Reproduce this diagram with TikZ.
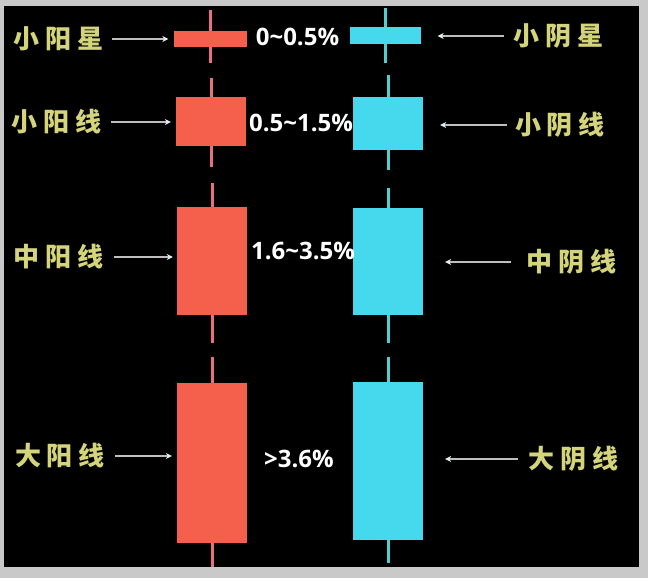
\documentclass[tikz,border=0pt]{standalone}
\usepackage{fontspec}
\newfontfamily\cjk{Noto Sans CJK SC}
\newfontfamily\pctfont{Open Sans}
\usetikzlibrary{arrows.meta}
\definecolor{panelgray}{HTML}{C9C9C9}
\definecolor{yang}{HTML}{F5604C}
\definecolor{yin}{HTML}{46D8EC}
\definecolor{yangwick}{HTML}{E8707E}
\definecolor{yinwick}{HTML}{50CFD3}
\definecolor{lblyellow}{HTML}{D4D47A}
\definecolor{arrowgray}{HTML}{BEBEBE}
\definecolor{arrowtip}{HTML}{DDF2F5}
\newcommand{\spaced}[3]{#1\kern6pt#2\kern6pt#3}
\tikzset{
	body/.style={rectangle, inner sep=0pt, minimum width=70pt},
	yangbody/.style={body, fill=yang},
	yinbody/.style={body, fill=yin},
	wick/.style={line width=3pt},
	lbl/.style={inner sep=0pt, text=lblyellow, font=\cjk\bfseries\fontsize{26}{26}\selectfont},
	pct/.style={inner sep=0pt, text=white, font=\pctfont\bfseries\fontsize{24}{24}\selectfont},
	pointer/.style={draw=arrowgray, line width=2.2pt, -{Stealth[length=6pt, width=6pt, color=arrowtip]}}
}

\begin{document}
\begin{tikzpicture}[x=1pt, y=-1pt]
\useasboundingbox (0, 0) rectangle (648, 578);
\fill[panelgray] (0, 0) rectangle (648, 578);
\fill[black] (4, 6) rectangle (639, 567);
% red candles
\node[yangbody, minimum width=73pt, minimum height=16pt] (r1) at (210, 39) {};
\node[yangbody, minimum height=49pt] (r2) at (211, 121.5) {};
\node[yangbody, minimum height=108pt] (r3) at (212, 261) {};
\node[yangbody, minimum height=160pt] (r4) at (212, 463) {};
\draw[wick, yangwick] (r1.north) -- +(0, -21);
\draw[wick, yangwick] (r1.south) -- +(0, 16);
\draw[wick, yangwick] (r2.north) -- +(0, -19);
\draw[wick, yangwick] (r2.south) -- +(0, 21);
\draw[wick, yangwick] (r3.north) -- +(0, -24);
\draw[wick, yangwick] (r3.south) -- +(0, 28);
\draw[wick, yangwick] (r4.north) -- +(0, -26);
\draw[wick, yangwick] (r4.south) -- +(0, 24);
% blue candles
\node[yinbody, minimum width=71pt, minimum height=17pt] (b1) at (385, 35.5) {};
\node[yinbody, minimum height=53pt] (b2) at (388, 123.5) {};
\node[yinbody, minimum height=107pt] (b3) at (388, 261.5) {};
\node[yinbody, minimum height=158pt] (b4) at (388, 461) {};
\draw[wick, yinwick] (b1.north) -- +(0, -19);
\draw[wick, yinwick] (b1.south) -- +(0, 19);
\draw[wick, yinwick] (b2.north) -- +(0, -22);
\draw[wick, yinwick] (b2.south) -- +(0, 20);
\draw[wick, yinwick] (b3.north) -- +(0, -20);
\draw[wick, yinwick] (b3.south) -- +(0, 28);
\draw[wick, yinwick] (b4.north) -- +(0, -25);
\draw[wick, yinwick] (b4.south) -- +(0, 23);
% names
\node[lbl] (l1) at (58.5, 39) {\spaced{小}{阳}{星}};
\node[lbl] (l2) at (57, 122) {\spaced{小}{阳}{线}};
\node[lbl] (l3) at (58.5, 257) {\spaced{中}{阳}{线}};
\node[lbl] (l4) at (60, 456) {\spaced{大}{阳}{线}};
\node[lbl] (m1) at (558.5, 36) {\spaced{小}{阴}{星}};
\node[lbl] (m2) at (560, 125) {\spaced{小}{阴}{线}};
\node[lbl] (m3) at (571.5, 262) {\spaced{中}{阴}{线}};
\node[lbl] (m4) at (573.5, 459) {\spaced{大}{阴}{线}};
\draw[pointer, shorten <=8pt, shorten >=5pt] (l1.east) -- (l1.east -| r1.west);
\draw[pointer, shorten <=9pt, shorten >=5pt] (l2.east) -- (l2.east -| r2.west);
\draw[pointer, shorten <=10pt, shorten >=4pt] (l3.east) -- (l3.east -| r3.west);
\draw[pointer, shorten <=10pt, shorten >=5pt] (l4.east) -- (l4.east -| r4.west);
\draw[pointer, shorten <=9pt, shorten >=17pt] (m1.west) -- (m1.west -| b1.east);
\draw[pointer, shorten <=8pt, shorten >=17pt] (m2.west) -- (m2.west -| b2.east);
\draw[pointer, shorten <=15pt, shorten >=22pt] (m3.west) -- (m3.west -| b3.east);
\draw[pointer, shorten <=10pt, shorten >=22pt] (m4.west) -- (m4.west -| b4.east);
% ranges
\node[pct] (p1) at (297.5, 37) {0\textasciitilde0.5\%};
\node[pct] (p2) at (301, 123) {0.5\textasciitilde1.5\%};
\node[pct] (p3) at (303, 251) {1.6\textasciitilde3.5\%};
\node[pct] (p4) at (299, 459) {>3.6\%};
\end{tikzpicture}
\end{document}
